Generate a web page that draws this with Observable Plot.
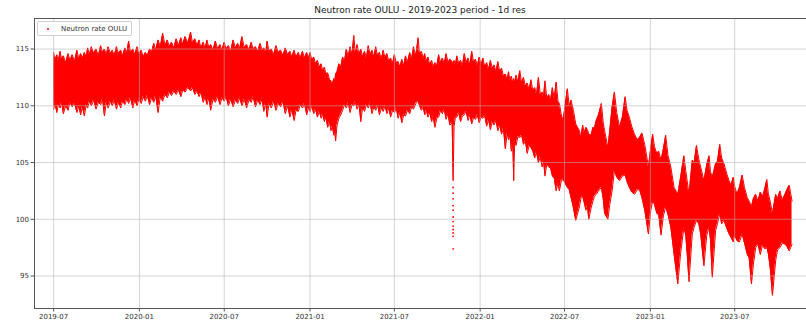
<!DOCTYPE html>
<html>
<head>
<meta charset="utf-8">
<script src="https://cdn.jsdelivr.net/npm/d3@7"></script>
<script src="https://cdn.jsdelivr.net/npm/@observablehq/plot@0.6"></script>
<style>
  body { margin: 0; background: #fff; }
  #chart { position: relative; width: 806px; height: 324px; font-family: "DejaVu Sans", sans-serif; }
  #title { position: absolute; top: 5px; left: 34px; width: 772px; text-align: center; font-size: 9px; color: #222; line-height: 11px; }
  #legend { position: absolute; left: 37px; top: 21px; height: 13px; padding: 0 4px 0 6px; border: 1px solid #d0d0d0; border-radius: 2px;
            background: rgba(255,255,255,0.8); font-size: 7px; color: #333; display: flex; align-items: center; }
  #legend .mk { width: 2px; height: 2px; border-radius: 50%; background: #ff0000; margin-right: 12px; margin-left: 3px; }
</style>
</head>
<body>
<div id="chart">
  <div id="title">Neutron rate OULU - 2019-2023 period - 1d res</div>
  <div id="legend"><span class="mk"></span><span>Neutron rate OULU</span></div>
</div>
<script>
// Upper and lower edge of the count-rate point cloud, one entry per date
const dates = [
  "2019-07-01","2019-07-04","2019-07-08","2019-07-11","2019-07-15","2019-07-18","2019-07-22","2019-07-27",
  "2019-08-01","2019-08-05","2019-08-10","2019-08-15","2019-08-20","2019-08-24","2019-08-28","2019-09-01",
  "2019-09-05","2019-09-09","2019-09-12","2019-09-16","2019-09-20","2019-09-25","2019-09-30","2019-10-05",
  "2019-10-10","2019-10-14","2019-10-18","2019-10-22","2019-10-26","2019-10-31","2019-11-04","2019-11-08",
  "2019-11-13","2019-11-17","2019-11-22","2019-11-26","2019-12-01","2019-12-05","2019-12-09","2019-12-13",
  "2019-12-18","2019-12-22","2019-12-27","2019-12-31","2020-01-05","2020-01-09","2020-01-14","2020-01-18",
  "2020-01-23","2020-01-27","2020-02-01","2020-02-05","2020-02-10","2020-02-15","2020-02-20","2020-02-25",
  "2020-03-01","2020-03-05","2020-03-10","2020-03-15","2020-03-20","2020-03-25","2020-03-30","2020-04-03",
  "2020-04-08","2020-04-14","2020-04-20","2020-04-24","2020-04-29","2020-05-04","2020-05-08","2020-05-12",
  "2020-05-17","2020-05-21","2020-05-25","2020-05-29","2020-06-02","2020-06-07","2020-06-12","2020-06-17",
  "2020-06-22","2020-06-26","2020-07-01","2020-07-05","2020-07-10","2020-07-15","2020-07-20","2020-07-25",
  "2020-07-30","2020-08-03","2020-08-08","2020-08-13","2020-08-18","2020-08-23","2020-08-28","2020-09-01",
  "2020-09-06","2020-09-11","2020-09-16","2020-09-20","2020-09-24","2020-09-28","2020-10-01","2020-10-05",
  "2020-10-10","2020-10-15","2020-10-20","2020-10-25","2020-10-30","2020-11-04","2020-11-09","2020-11-14",
  "2020-11-19","2020-11-23","2020-11-28","2020-12-02","2020-12-07","2020-12-11","2020-12-16","2020-12-20",
  "2020-12-25","2020-12-29","2021-01-01","2021-01-05","2021-01-09","2021-01-13","2021-01-17","2021-01-21",
  "2021-01-25","2021-01-28","2021-02-01","2021-02-04","2021-02-08","2021-02-12","2021-02-15","2021-02-18",
  "2021-02-21","2021-02-23","2021-02-25","2021-02-28","2021-03-04","2021-03-08","2021-03-12","2021-03-16",
  "2021-03-20","2021-03-24","2021-03-28","2021-04-01","2021-04-05","2021-04-08","2021-04-12","2021-04-16",
  "2021-04-20","2021-04-24","2021-04-28","2021-05-02","2021-05-06","2021-05-10","2021-05-14","2021-05-18",
  "2021-05-22","2021-05-26","2021-05-30","2021-06-03","2021-06-07","2021-06-11","2021-06-15","2021-06-19",
  "2021-06-23","2021-06-27","2021-07-01","2021-07-05","2021-07-09","2021-07-13","2021-07-17","2021-07-21",
  "2021-07-25","2021-07-29","2021-08-03","2021-08-07","2021-08-11","2021-08-16","2021-08-21","2021-08-24",
  "2021-08-28","2021-09-01","2021-09-04","2021-09-08","2021-09-11","2021-09-15","2021-09-19","2021-09-22",
  "2021-09-26","2021-09-30","2021-10-04","2021-10-08","2021-10-12","2021-10-16","2021-10-20","2021-10-24",
  "2021-10-28","2021-11-02","2021-11-04","2021-11-06","2021-11-09","2021-11-12","2021-11-16","2021-11-20",
  "2021-11-24","2021-11-28","2021-12-02","2021-12-06","2021-12-10","2021-12-14","2021-12-18","2021-12-22",
  "2021-12-26","2021-12-30","2022-01-03","2022-01-07","2022-01-11","2022-01-15","2022-01-19","2022-01-23",
  "2022-01-27","2022-01-31","2022-02-04","2022-02-08","2022-02-12","2022-02-16","2022-02-20","2022-02-24",
  "2022-02-28","2022-03-03","2022-03-06","2022-03-09","2022-03-12","2022-03-14","2022-03-16","2022-03-19",
  "2022-03-23","2022-03-27","2022-03-31","2022-04-04","2022-04-08","2022-04-12","2022-04-16","2022-04-20",
  "2022-04-24","2022-04-28","2022-05-02","2022-05-06","2022-05-10","2022-05-14","2022-05-17","2022-05-20",
  "2022-05-24","2022-05-28","2022-06-01","2022-06-05","2022-06-09","2022-06-13","2022-06-17","2022-06-20",
  "2022-06-24","2022-06-28","2022-07-07","2022-07-11","2022-07-15","2022-07-20","2022-07-25","2022-08-02",
  "2022-08-05","2022-08-09","2022-08-12","2022-08-16","2022-08-19","2022-08-22","2022-08-27","2022-08-31",
  "2022-09-03","2022-09-07","2022-09-12","2022-09-18","2022-09-22","2022-09-25","2022-10-02","2022-10-06",
  "2022-10-11","2022-10-16","2022-10-21","2022-10-27","2022-11-02","2022-11-08","2022-11-12","2022-11-17",
  "2022-11-22","2022-11-28","2022-12-04","2022-12-09","2022-12-14","2022-12-20","2022-12-28","2023-01-02",
  "2023-01-06","2023-01-10","2023-01-15","2023-01-19","2023-01-24","2023-01-29","2023-02-03","2023-02-08",
  "2023-02-14","2023-02-21","2023-03-01","2023-03-07","2023-03-14","2023-03-18","2023-03-21","2023-03-25",
  "2023-04-01","2023-04-05","2023-04-10","2023-04-15","2023-04-19","2023-04-26","2023-05-02","2023-05-07",
  "2023-05-10","2023-05-14","2023-05-21","2023-05-25","2023-05-30","2023-06-03","2023-06-08","2023-06-14",
  "2023-06-19","2023-06-23","2023-06-28","2023-07-01","2023-07-06","2023-07-11","2023-07-17","2023-07-22",
  "2023-07-28","2023-08-01","2023-08-06","2023-08-10","2023-08-15","2023-08-20","2023-08-25","2023-08-30",
  "2023-09-03","2023-09-08","2023-09-11","2023-09-15","2023-09-20","2023-09-27","2023-10-01","2023-10-06",
  "2023-10-11","2023-10-17","2023-10-21","2023-10-26","2023-10-29","2023-11-01"
];
const upper = [
  114.7,114.0,114.5,113.9,114.8,114.1,114.4,113.8,
  114.6,114.0,114.5,113.9,114.9,114.1,114.6,114.2,
  114.7,114.3,115.1,114.5,115.2,114.6,115.0,114.4,
  115.3,114.7,115.0,114.5,115.2,114.6,114.9,114.4,
  115.2,114.6,114.9,114.4,115.1,114.6,115.7,114.7,
  115.0,114.5,115.2,114.5,114.9,114.3,114.7,114.4,
  115.0,114.7,115.5,114.9,115.8,115.2,116.4,115.3,
  115.8,115.2,115.6,115.1,115.9,115.3,116.0,115.4,
  116.1,115.5,116.5,115.5,115.9,115.3,115.8,115.1,
  115.6,115.0,115.8,115.1,115.4,114.9,115.7,115.0,
  115.4,114.9,115.6,115.0,115.3,114.8,115.8,115.1,
  115.5,115.0,116.1,115.1,115.4,114.9,115.6,115.0,
  115.2,114.8,115.5,114.9,115.1,114.7,115.7,114.8,
  115.0,114.5,115.3,114.7,114.9,114.4,115.1,114.5,
  114.8,114.3,114.9,114.3,114.7,114.2,114.8,114.2,
  114.7,114.2,114.7,114.0,114.3,113.7,114.0,113.4,
  113.7,113.1,113.4,112.8,112.9,112.3,112.2,111.9,
  112.4,112.1,112.8,113.0,113.7,113.4,114.3,113.9,
  115.0,114.3,115.2,114.5,116.2,114.6,115.4,114.5,
  115.0,114.3,114.8,114.2,115.3,114.5,114.9,114.3,
  115.2,114.4,114.7,114.1,114.9,114.2,114.6,113.9,
  114.2,113.7,114.5,113.8,113.9,113.4,114.1,113.5,
  114.4,113.8,114.7,114.1,115.2,114.4,116.0,114.5,
  114.8,114.1,114.6,113.9,114.3,113.6,114.0,113.4,
  113.8,113.5,114.5,113.8,114.2,113.7,114.6,113.8,
  114.1,113.9,113.6,114.0,113.6,114.4,113.7,114.0,
  113.5,114.6,113.8,114.2,113.6,114.8,113.8,114.1,
  113.5,114.3,113.6,114.2,113.4,113.8,113.2,114.0,
  113.3,113.6,113.0,113.9,113.0,113.3,112.6,112.8,
  112.3,113.0,112.2,112.6,112.0,112.4,112.0,112.7,
  112.1,113.1,112.0,112.5,111.7,112.0,111.4,112.3,
  111.3,111.6,111.0,112.5,111.0,111.2,110.8,112.2,
  110.6,111.0,110.5,111.6,110.6,112.1,110.4,110.2,
  109.2,108.7,111.5,110.0,110.5,109.6,108.4,107.8,
  107.2,108.3,107.6,108.1,107.9,107.5,107.4,108.1,
  108.0,108.7,109.2,110.2,108.5,107.8,106.3,107.8,
  109.9,111.2,109.4,108.1,109.0,110.8,109.6,109.0,
  108.2,107.5,107.0,107.2,107.6,106.6,104.6,106.3,
  107.5,106.4,105.8,106.0,105.2,106.2,107.4,105.6,
  104.6,102.8,102.2,103.7,105.6,104.3,103.4,102.2,
  105.2,105.0,106.5,105.3,104.6,103.4,104.8,105.6,
  104.2,103.7,104.9,105.1,106.6,105.4,104.9,104.0,
  103.4,103.0,103.7,102.9,102.2,102.8,103.9,102.8,
  101.9,101.6,101.1,101.8,102.2,101.6,102.4,102.0,
  102.6,103.5,102.3,101.6,100.5,102.2,101.8,102.5,
  101.7,102.2,102.6,103.0,102.3,101.6
];
const lower = [
  109.7,110.2,109.4,110.1,109.8,110.3,109.3,110.0,
  109.6,110.3,109.9,110.2,109.4,110.0,109.2,109.9,
  109.1,110.1,109.8,110.4,110.0,110.5,109.7,110.3,
  110.1,110.6,109.1,110.3,109.8,110.4,110.0,110.5,
  109.7,110.3,109.8,110.4,110.1,110.6,110.2,110.7,
  109.8,110.5,110.0,110.6,110.2,110.8,110.4,110.9,
  110.1,110.7,110.3,110.9,109.4,110.8,110.4,111.0,
  110.7,111.2,110.9,111.3,111.0,111.4,110.8,111.4,
  111.2,111.6,111.3,111.6,111.0,111.3,110.8,111.2,
  110.3,110.8,110.1,110.7,109.6,110.6,110.3,110.8,
  110.1,110.7,110.4,110.8,110.0,110.6,109.9,110.5,
  110.2,110.7,110.0,110.6,109.8,110.5,110.3,110.8,
  109.9,110.5,110.1,110.6,109.5,110.3,109.0,110.2,
  109.8,110.4,109.6,110.2,109.9,110.4,109.3,110.0,
  109.0,109.7,108.7,109.6,109.5,110.1,109.8,110.2,
  109.2,109.9,109.5,110.0,109.3,109.7,109.0,109.5,
  108.9,109.3,108.6,109.0,108.1,108.6,107.8,108.2,
  107.4,107.9,106.9,108.3,108.9,109.2,109.6,110.1,
  109.8,110.3,109.4,110.1,110.0,110.4,109.7,110.2,
  108.6,109.9,109.5,110.1,109.8,110.3,109.3,109.9,
  109.6,110.1,109.2,109.8,109.5,110.0,109.3,109.8,
  109.0,109.6,109.4,109.8,108.9,109.4,108.5,109.2,
  109.1,109.6,109.3,109.9,109.7,110.2,110.4,110.0,
  109.6,109.9,109.2,109.6,109.0,109.4,108.6,109.1,
  108.1,108.9,109.0,109.6,109.3,109.7,108.8,109.3,
  108.3,108.5,103.4,108.2,109.0,109.0,109.4,108.6,
  109.1,109.2,109.5,108.7,109.2,108.4,109.0,108.8,
  109.2,108.5,109.0,108.9,109.1,108.2,108.8,107.9,
  108.6,108.3,108.7,107.8,108.3,107.5,108.0,106.2,
  107.6,107.0,107.4,106.0,106.8,103.4,106.7,106.5,
  107.3,107.2,107.4,106.6,106.9,105.8,106.5,106.3,
  106.0,105.4,105.9,105.0,105.5,104.6,105.2,103.8,
  104.9,104.6,104.5,103.8,103.6,102.5,103.2,102.5,
  103.4,103.5,102.8,102.6,101.9,101.0,99.9,101.1,
  101.8,102.0,101.5,100.8,101.2,100.0,101.0,101.6,
  102.0,102.2,102.5,102.8,101.8,100.5,100.0,101.3,
  102.5,104.3,103.7,103.4,103.8,103.9,103.3,102.8,
  102.4,102.2,102.6,102.6,101.9,100.8,98.7,100.8,
  101.6,101.3,100.5,100.4,98.6,100.3,101.1,100.4,
  99.3,96.9,94.3,97.0,99.3,98.6,97.0,94.5,
  98.7,99.3,99.9,99.6,98.7,95.9,98.6,99.3,
  98.2,94.9,99.0,99.6,100.5,99.6,99.9,99.2,
  98.7,98.4,98.0,98.6,98.1,98.0,98.7,97.9,
  96.9,96.6,94.3,96.0,97.5,97.8,96.9,97.8,
  97.4,97.5,97.0,95.8,93.3,96.4,97.3,97.5,
  97.9,97.8,97.6,97.2,97.5,97.8
];

// Isolated readings below the cloud during the November 2021 decrease
const dipDates = ["2021-11-04","2021-11-04","2021-11-04","2021-11-04","2021-11-04","2021-11-04",
                  "2021-11-04","2021-11-04","2021-11-04","2021-11-04","2021-11-04","2021-11-04"];
const dipValues = [102.8,102.3,101.8,101.2,100.8,100.2,99.8,99.4,99.1,98.8,98.5,97.4];

const xTickLabels = ["2019-07","2020-01","2020-07","2021-01","2021-07","2022-01","2022-07","2023-01","2023-07"];
const yTicks = [95, 100, 105, 110, 115];

const parse = d3.utcParse("%Y-%m-%d");
const rows = dates.map((d, i) => ({date: parse(d), hi: upper[i], lo: lower[i]}));
const dips = dipDates.map((d, i) => ({date: parse(d), value: dipValues[i]}));
const xTicks = xTickLabels.map(s => d3.utcParse("%Y-%m")(s));

const red = "#ff0000";
const gridStyle = {stroke: "#b0b0b0", strokeOpacity: 0.55, strokeWidth: 1};

const chart = Plot.plot({
  width: 806,
  height: 324,
  marginLeft: 34,
  marginRight: 0,
  marginTop: 18,
  marginBottom: 16,
  style: {fontFamily: "DejaVu Sans, sans-serif", fontSize: "7px", color: "#333", background: "transparent"},
  x: {type: "utc", domain: [parse("2019-05-21"), parse("2023-12-02")]},
  y: {domain: [92.14, 117.69]},
  marks: [
    Plot.areaY(rows, {x: "date", y1: "lo", y2: "hi", fill: red}),
    Plot.line(rows, {x: "date", y: "hi", stroke: red, strokeWidth: 1}),
    Plot.line(rows, {x: "date", y: "lo", stroke: red, strokeWidth: 1}),
    Plot.dot(dips, {x: "date", y: "value", r: 0.9, fill: red}),
    Plot.gridX(xTicks, gridStyle),
    Plot.gridY(yTicks, gridStyle),
    Plot.axisX(xTicks, {tickFormat: d3.utcFormat("%Y-%m"), tickSize: 3.5, tickPadding: 2, label: null, stroke: "#555"}),
    Plot.axisY(yTicks, {tickSize: 3.5, tickPadding: 2, label: null, stroke: "#555"}),
    Plot.frame({anchor: "left", stroke: "#555"}),
    Plot.frame({anchor: "top", stroke: "#555"}),
    Plot.frame({anchor: "bottom", stroke: "#555"})
  ]
});
chart.style.position = "absolute";
chart.style.left = "0";
chart.style.top = "0";
document.getElementById("chart").prepend(chart);
</script>
</body>
</html>
